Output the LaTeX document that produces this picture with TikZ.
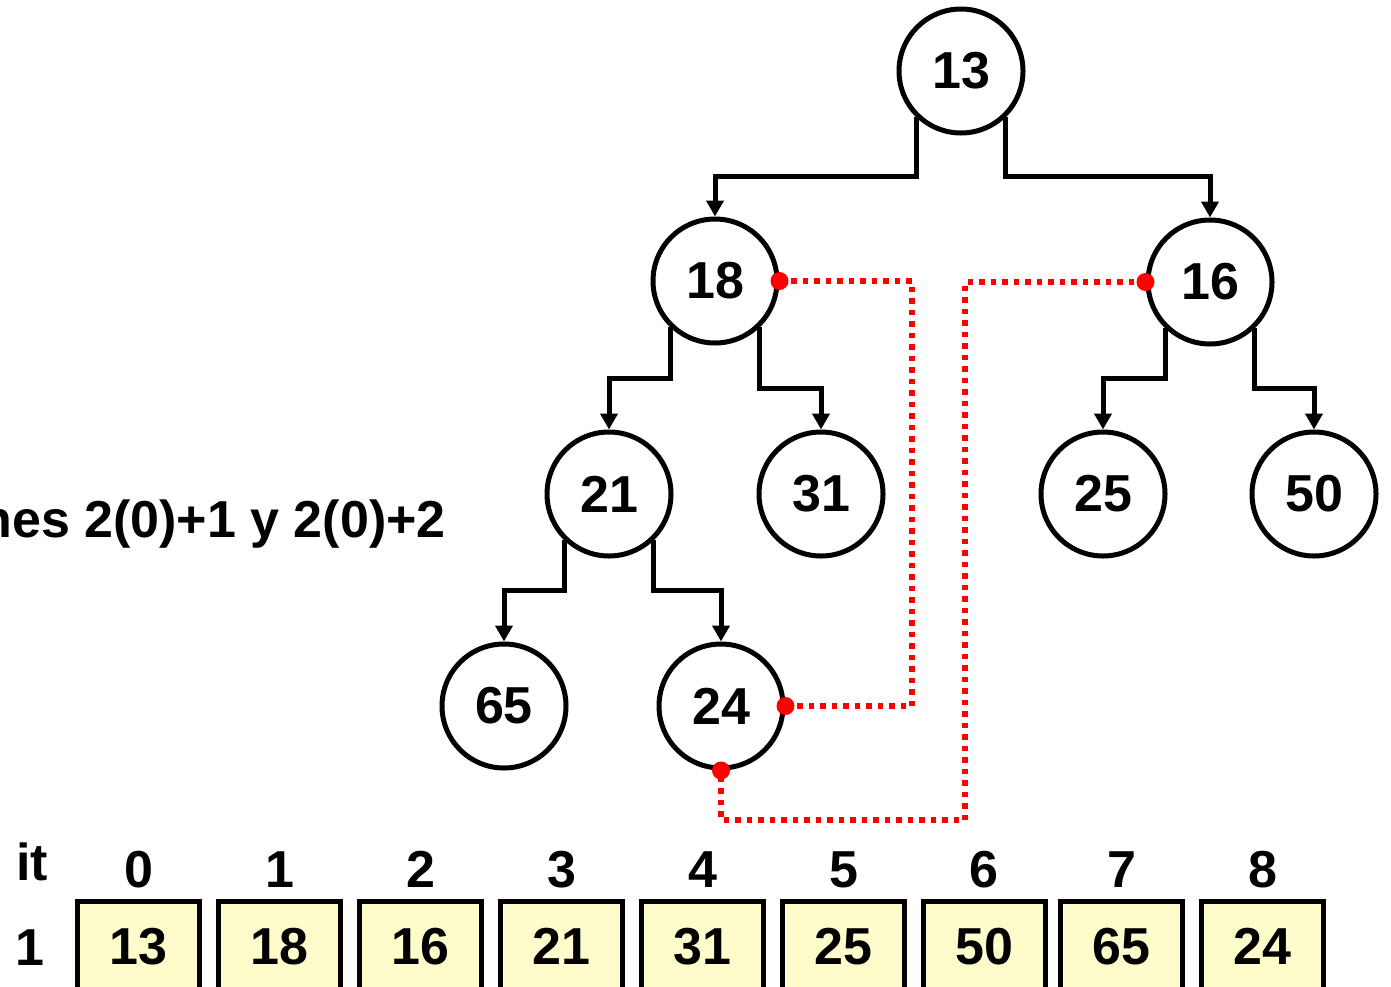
\documentclass[tikz,border=0pt]{standalone}
\usepackage{fontspec}
\setmainfont{Liberation Sans}
\usetikzlibrary{arrows.meta}
\begin{document}
\begin{tikzpicture}[x=1pt,y=-1pt,
  every node/.style={font=\fontsize{52}{60}\selectfont\bfseries},
  heapnode/.style={circle,draw,line width=5pt,minimum size=124pt,inner sep=0pt},
  cell/.style={rectangle,draw,line width=5pt,fill=yellow!20,minimum width=122pt,minimum height=90pt,inner sep=0pt,anchor=north},
  lbl/.style={inner sep=0pt,anchor=base},
  edge/.style={line width=5pt,-{Triangle[length=16pt,width=17pt]}},
  link/.style={red,line width=5.5pt,dash pattern=on 5.5pt off 6pt},
  dot/.style={circle,fill=red,inner sep=0pt,minimum size=18pt}]
\useasboundingbox (0,0) rectangle (1391,986);
% tree nodes
\node[heapnode] (n13) at (961,71) {13};
\node[heapnode] (n18) at (715,281) {18};
\node[heapnode] (n16) at (1210,282) {16};
\node[heapnode] (n21) at (609,494) {21};
\node[heapnode] (n31) at (821,494) {31};
\node[heapnode] (n25) at (1103,494) {25};
\node[heapnode] (n50) at (1314,494) {50};
\node[heapnode] (n65) at (504,706) {65};
\node[heapnode] (n24) at (721,706) {24};
% junction levels
\coordinate (j13) at (0,176);
\coordinate (j18l) at (0,378);
\coordinate (j18r) at (0,388);
\coordinate (j21) at (0,590);
% edges
\draw[edge] (n13.226) -- (n13.226 |- j13) -| (n18.north);
\draw[edge] (n13.314) -- (n13.314 |- j13) -| (n16.north);
\draw[edge] (n18.226) -- (n18.226 |- j18l) -| (n21.north);
\draw[edge] (n18.314) -- (n18.314 |- j18r) -| (n31.north);
\draw[edge] (n16.226) -- (n16.226 |- j18l) -| (n25.north);
\draw[edge] (n16.314) -- (n16.314 |- j18r) -| (n50.north);
\draw[edge] (n21.226) -- (n21.226 |- j21) -| (n65.north);
\draw[edge] (n21.314) -- (n21.314 |- j21) -| (n24.north);
% red dotted links
\coordinate (r1) at (912,0);
\coordinate (r2) at (965,0);
\coordinate (r3) at (0,820);
\draw[link] (n18.east) -| (r1 |- n24.east) -- (n24.east);
\draw[link] (n16.west) -| (r2 |- r3) -| (n24.south);
\node[dot] (d1) at (n18.east) {};
\node[dot] (d2) at (n16.west) {};
\node[dot] (d3) at (n24.east) {};
\node[dot] (d4) at (n24.south) {};
% left text
\node[inner sep=0pt,anchor=base east] (txt) at (446,537) {nes 2(0)+1 y 2(0)+2};
% array
\node[lbl] (it) at (32,880) {it};
\node[lbl] (row) at (30,965) {1};
\foreach \i/\x/\v in {0/138.5/13,1/279.5/18,2/420.5/16,3/561.5/21,4/702.5/31,5/843.5/25,6/984/50,7/1121.5/65,8/1262.5/24}{
  \node[lbl] (idx\i) at (\x,887) {\i};
  \node[cell] (c\i) at (\x,899) {\v};
}
\end{tikzpicture}
\end{document}
